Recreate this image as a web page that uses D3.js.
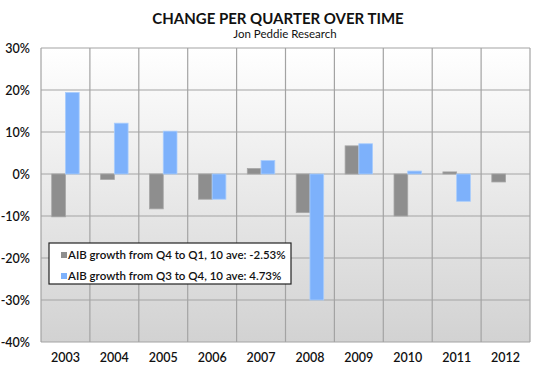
<!DOCTYPE html>
<html>
<head>
<meta charset="utf-8">
<script src="https://cdn.jsdelivr.net/npm/d3@7"></script>
<style>
  body { margin: 0; background: #fff; }
  text { font-family: "Lato", "DejaVu Sans", sans-serif; fill: #111; }
</style>
</head>
<body>
<div id="container"></div>
<script>
// data
const years = ['2003', '2004', '2005', '2006', '2007', '2008', '2009', '2010', '2011', '2012'];
const q4ToQ1 = [-10.2, -1.3, -8.3, -6.0, 1.3, -9.2, 6.7, -10.0, 0.5, -1.9];
const q3ToQ4 = [19.4, 12.1, 10.2, -6.0, 3.2, -30.0, 7.2, 0.7, -6.5, 0];
const yTicks = [30, 20, 10, 0, -10, -20, -30, -40];
const seriesNames = [
  'AIB growth from Q4 to Q1, 10 ave: -2.53%',
  'AIB growth from Q3 to Q4, 10 ave: 4.73%'
];
const colors = ['#8e8e8e', '#7db1fb'];

const width = 534, height = 370,
  margin = { top: 48, right: 4, bottom: 28, left: 41 };

const svg = d3.select('#container').append('svg')
  .attr('width', width)
  .attr('height', height);

const x = d3.scaleBand().domain(years)
  .range([margin.left, width - margin.right]);
const x1 = d3.scaleBand().domain([0, 1])
  .range([0, x.bandwidth()])
  .paddingOuter(0.78).paddingInner(0);
const y = d3.scaleLinear().domain([-40, 30])
  .range([height - margin.bottom, margin.top]);

// plot background gradient
const defs = svg.append('defs');
const grad = defs.append('linearGradient').attr('id', 'bg')
  .attr('x1', 0).attr('y1', 0).attr('x2', 0).attr('y2', 1);
grad.append('stop').attr('offset', '0%').attr('stop-color', '#ffffff');
grad.append('stop').attr('offset', '100%').attr('stop-color', '#d2d2d2');

svg.append('rect')
  .attr('x', margin.left).attr('y', margin.top)
  .attr('width', x.range()[1] - margin.left)
  .attr('height', y(-40) - y(30))
  .attr('fill', 'url(#bg)');

// grid
svg.selectAll('.hgrid')
  .data(yTicks)
  .join('line')
  .attr('class', 'hgrid')
  .attr('x1', margin.left).attr('x2', x.range()[1])
  .attr('y1', d => y(d)).attr('y2', d => y(d))
  .attr('stroke', '#a3a3a3').attr('stroke-width', 1.2);

svg.selectAll('.vgrid')
  .data(years.concat(['end']))
  .join('line')
  .attr('class', 'vgrid')
  .attr('x1', (d, i) => margin.left + i * x.bandwidth())
  .attr('x2', (d, i) => margin.left + i * x.bandwidth())
  .attr('y1', y(30)).attr('y2', y(-40))
  .attr('stroke', '#a3a3a3').attr('stroke-width', 1.2);

// bars
const series = [q4ToQ1, q3ToQ4];
series.forEach((vals, s) => {
  svg.selectAll('.bar' + s)
    .data(vals.map((v, i) => ({ year: years[i], v })).filter(d => d.v !== 0))
    .join('rect')
    .attr('class', 'bar' + s)
    .attr('x', d => x(d.year) + x1(s))
    .attr('width', x1.bandwidth())
    .attr('y', d => y(Math.max(0, d.v)))
    .attr('height', d => Math.abs(y(d.v) - y(0)))
    .attr('fill', colors[s])
    .attr('stroke', s === 0 ? '#a6a6a6' : '#a9cdfd')
    .attr('stroke-width', 0.8);
});

// y axis labels
svg.selectAll('.ylab')
  .data(yTicks)
  .join('text')
  .attr('class', 'ylab')
  .attr('x', 30).attr('y', d => y(d) + 4.5)
  .attr('text-anchor', 'end')
  .attr('font-size', 12.5).attr('font-weight', 600)
  .text(d => d + '%');

// x axis labels
svg.selectAll('.xlab')
  .data(years)
  .join('text')
  .attr('class', 'xlab')
  .attr('x', d => x(d) + x.bandwidth() / 2)
  .attr('y', 362)
  .attr('text-anchor', 'middle')
  .attr('font-size', 12.5).attr('font-weight', 600)
  .text(d => d);

// titles
svg.append('text')
  .attr('x', 278).attr('y', 23.5)
  .attr('text-anchor', 'middle')
  .attr('font-size', 15).attr('font-weight', 700)
  .text('CHANGE PER QUARTER OVER TIME');
svg.append('text')
  .attr('x', 285).attr('y', 37.5)
  .attr('text-anchor', 'middle')
  .attr('font-size', 11.5)
  .text('Jon Peddie Research');

// legend
const legend = svg.append('g').attr('transform', 'translate(49,243)');
legend.append('rect')
  .attr('width', 242).attr('height', 41)
  .attr('fill', '#fff').attr('stroke', '#222').attr('stroke-width', 1.2);
seriesNames.forEach((name, i) => {
  legend.append('rect')
    .attr('x', 12).attr('y', 9 + i * 21)
    .attr('width', 6).attr('height', 6)
    .attr('fill', colors[i]);
  legend.append('text')
    .attr('x', 19).attr('y', 16 + i * 21)
    .attr('font-size', 11.5).attr('font-weight', 600)
    .text(name);
});
</script>
</body>
</html>
